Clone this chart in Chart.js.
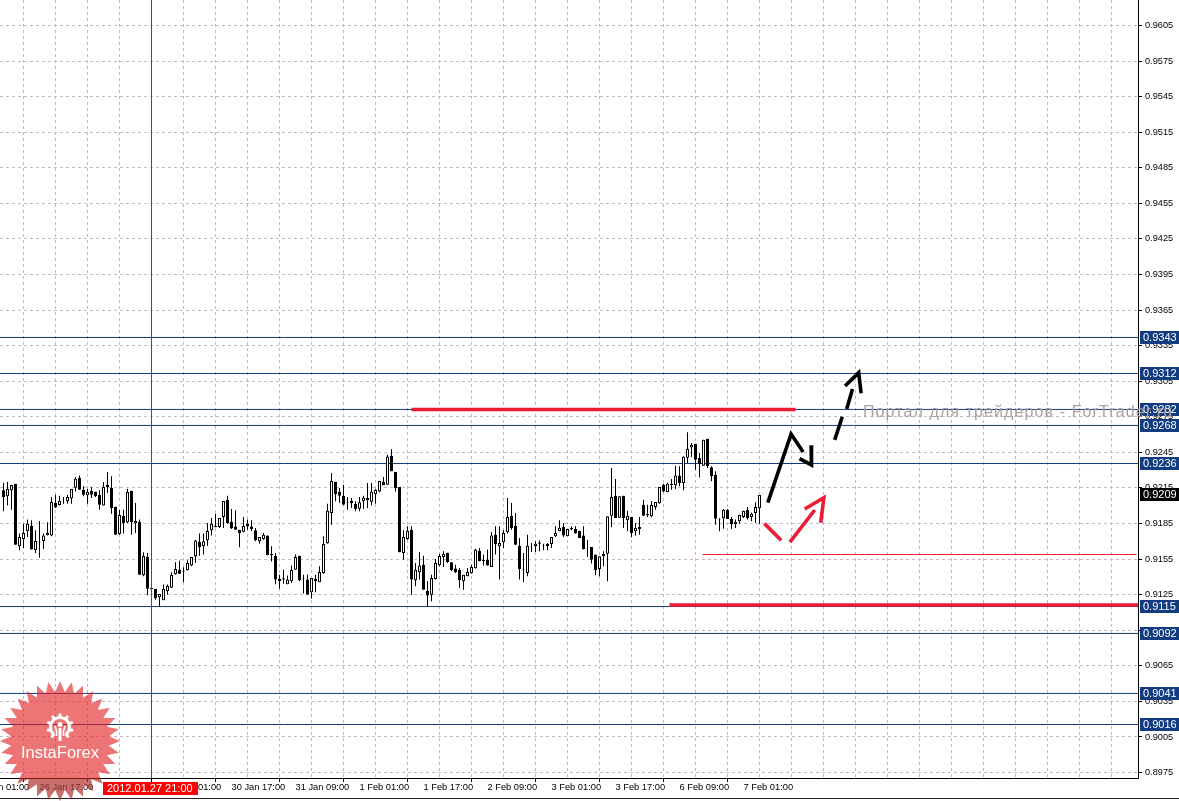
<!DOCTYPE html>
<html>
<head>
<meta charset="utf-8">
<title>USDCHF H1</title>
<script src="https://cdn.jsdelivr.net/npm/chart.js@4"></script>
<style>
html,body{margin:0;padding:0;background:#fff;overflow:hidden}
canvas{display:block}
</style>
</head>
<body>
<canvas id="chart" width="1179" height="801"></canvas>
<script>
const opens = [
0.92130,0.92079,0.92130,0.92186,0.91658,0.91720,0.91784,0.91832,0.91624,0.91697,
0.91703,0.91751,0.91748,0.92023,0.92006,0.92034,0.92037,0.92062,0.92152,0.92237,
0.92135,0.92088,0.92124,0.92119,0.92093,0.92003,0.92178,0.92152,0.91992,0.91762,
0.91916,0.91860,0.92127,0.91852,0.91866,0.91413,0.91568,0.91307,0.91301,0.91228,
0.91203,0.91278,0.91309,0.91422,0.91458,0.91446,0.91455,0.91495,0.91573,0.91694,
0.91658,0.91708,0.91793,0.91832,0.91821,0.91905,0.92051,0.91866,0.91824,0.91798,
0.91781,0.91849,0.91824,0.91793,0.91700,0.91720,0.91748,0.91593,0.91576,0.91385,
0.91388,0.91337,0.91363,0.91461,0.91579,0.91387,0.91377,0.91270,0.91385,0.91354,
0.91433,0.91683,0.91939,0.92203,0.92119,0.92085,0.92031,0.92043,0.92017,0.91975,
0.92037,0.92046,0.92034,0.92096,0.92121,0.92203,0.92178,0.92422,0.92284,0.92158,
0.91602,0.91720,0.91798,0.91371,0.91439,0.91503,0.91281,0.91250,0.91382,0.91498,
0.91568,0.91604,0.91523,0.91470,0.91461,0.91363,0.91405,0.91430,0.91472,0.91621,
0.91543,0.91543,0.91484,0.91756,0.91658,0.91692,0.91776,0.91916,0.91832,0.91663,
0.91463,0.91433,0.91654,0.91658,0.91689,0.91665,0.91677,0.91677,0.91742,0.91784,
0.91821,0.91742,0.91812,0.91804,0.91790,0.91748,0.91651,0.91652,0.91588,0.91467,
0.91573,0.91596,0.91916,0.92085,0.91899,0.92085,0.91877,0.91905,0.91784,0.91821,
0.92009,0.91930,0.91911,0.91989,0.92020,0.92178,0.92116,0.92186,0.92172,0.92256,
0.92192,0.92405,0.92492,0.92523,0.92402,0.92338,0.92565,0.92324,0.92262,0.91888,
0.91894,0.91967,0.91888,0.91843,0.91869,0.91905,0.91967,0.91905,0.91939,0.91978];
const highs = [
0.92192,0.92200,0.92175,0.92186,0.91765,0.91849,0.91883,0.91877,0.91793,0.91871,
0.91765,0.91860,0.92074,0.92093,0.92085,0.92074,0.92093,0.92141,0.92242,0.92254,
0.92164,0.92141,0.92158,0.92119,0.92130,0.92200,0.92284,0.92248,0.91992,0.91967,
0.91967,0.92144,0.92127,0.92023,0.91883,0.91607,0.91602,0.91307,0.91301,0.91256,
0.91335,0.91335,0.91439,0.91523,0.91537,0.91481,0.91540,0.91568,0.91714,0.91765,
0.91765,0.91854,0.91897,0.91933,0.91897,0.92040,0.92085,0.91973,0.91961,0.91798,
0.91905,0.91883,0.91877,0.91812,0.91736,0.91770,0.91748,0.91658,0.91602,0.91419,
0.91461,0.91411,0.91495,0.91588,0.91579,0.91419,0.91419,0.91391,0.91419,0.91489,
0.91742,0.92017,0.92276,0.92203,0.92150,0.92178,0.92071,0.92065,0.92037,0.92074,
0.92085,0.92192,0.92192,0.92141,0.92209,0.92242,0.92431,0.92478,0.92284,0.92158,
0.91793,0.91826,0.91826,0.91517,0.91610,0.91579,0.91363,0.91419,0.91551,0.91596,
0.91616,0.91604,0.91523,0.91503,0.91475,0.91419,0.91475,0.91503,0.91638,0.91644,
0.91588,0.91630,0.91776,0.91826,0.91826,0.91793,0.92065,0.92023,0.91939,0.91728,
0.91602,0.91756,0.91686,0.91700,0.91706,0.91680,0.91686,0.91736,0.91826,0.91877,
0.91854,0.91804,0.91826,0.91826,0.91790,0.91826,0.91714,0.91652,0.91588,0.91573,
0.91616,0.91911,0.92318,0.92225,0.92079,0.92085,0.91958,0.91905,0.91854,0.91905,
0.92051,0.92009,0.92037,0.92032,0.92158,0.92186,0.92197,0.92225,0.92338,0.92332,
0.92416,0.92619,0.92529,0.92523,0.92445,0.92557,0.92565,0.92332,0.92290,0.91897,
0.91973,0.91973,0.91905,0.91883,0.91925,0.91958,0.91989,0.91944,0.92029,0.92091];
const lows = [
0.91953,0.92001,0.91967,0.91672,0.91624,0.91644,0.91736,0.91630,0.91602,0.91562,
0.91635,0.91748,0.91742,0.91981,0.92001,0.92017,0.92017,0.92017,0.92121,0.92135,
0.92079,0.92017,0.92065,0.92074,0.91967,0.92003,0.92107,0.91933,0.91756,0.91756,
0.91765,0.91854,0.91756,0.91770,0.91419,0.91405,0.91245,0.91295,0.91208,0.91146,
0.91203,0.91250,0.91307,0.91419,0.91425,0.91354,0.91453,0.91489,0.91517,0.91579,
0.91588,0.91663,0.91748,0.91818,0.91812,0.91812,0.91849,0.91804,0.91798,0.91649,
0.91776,0.91798,0.91787,0.91700,0.91680,0.91714,0.91582,0.91529,0.91337,0.91301,
0.91343,0.91337,0.91349,0.91461,0.91363,0.91259,0.91250,0.91217,0.91270,0.91354,
0.91427,0.91680,0.91840,0.92037,0.92023,0.92009,0.91967,0.91981,0.91953,0.91953,
0.91973,0.91981,0.92001,0.92017,0.92113,0.92172,0.92178,0.92290,0.92121,0.91607,
0.91545,0.91714,0.91250,0.91321,0.91377,0.91292,0.91146,0.91194,0.91377,0.91489,
0.91484,0.91517,0.91447,0.91433,0.91307,0.91292,0.91405,0.91427,0.91470,0.91531,
0.91495,0.91495,0.91484,0.91588,0.91377,0.91644,0.91765,0.91798,0.91672,0.91377,
0.91354,0.91405,0.91610,0.91610,0.91616,0.91624,0.91624,0.91644,0.91736,0.91784,
0.91736,0.91742,0.91793,0.91765,0.91728,0.91630,0.91568,0.91512,0.91413,0.91405,
0.91489,0.91363,0.91818,0.91897,0.91899,0.91812,0.91784,0.91734,0.91748,0.91756,
0.91916,0.91905,0.91902,0.91967,0.92017,0.92113,0.92113,0.92135,0.92141,0.92164,
0.92130,0.92360,0.92411,0.92304,0.92239,0.92338,0.92318,0.92206,0.91840,0.91784,
0.91807,0.91888,0.91804,0.91812,0.91849,0.91897,0.91883,0.91869,0.91854,0.91849];
const closes = [
0.92071,0.92141,0.92175,0.91672,0.91736,0.91770,0.91849,0.91630,0.91703,0.91691,
0.91748,0.91770,0.92032,0.91987,0.92043,0.92030,0.92074,0.92141,0.92228,0.92135,
0.92093,0.92119,0.92093,0.92079,0.92009,0.92158,0.92155,0.91978,0.91756,0.91922,
0.91854,0.92116,0.91860,0.91871,0.91419,0.91576,0.91301,0.91295,0.91219,0.91256,
0.91301,0.91326,0.91419,0.91467,0.91427,0.91442,0.91517,0.91568,0.91706,0.91649,
0.91700,0.91787,0.91849,0.91818,0.91897,0.92040,0.91854,0.91810,0.91798,0.91767,
0.91829,0.91824,0.91804,0.91708,0.91736,0.91756,0.91582,0.91582,0.91377,0.91366,
0.91377,0.91377,0.91458,0.91568,0.91371,0.91383,0.91250,0.91391,0.91363,0.91441,
0.91677,0.91958,0.92209,0.92096,0.92085,0.92009,0.92027,0.92020,0.91973,0.92029,
0.92068,0.92065,0.92119,0.92133,0.92209,0.92172,0.92416,0.92290,0.92150,0.91607,
0.91736,0.91790,0.91377,0.91461,0.91495,0.91292,0.91242,0.91391,0.91517,0.91576,
0.91596,0.91523,0.91455,0.91439,0.91371,0.91419,0.91441,0.91484,0.91630,0.91531,
0.91534,0.91495,0.91748,0.91675,0.91686,0.91770,0.91905,0.91812,0.91672,0.91467,
0.91459,0.91663,0.91650,0.91680,0.91680,0.91661,0.91658,0.91736,0.91770,0.91815,
0.91748,0.91804,0.91801,0.91765,0.91728,0.91635,0.91647,0.91545,0.91455,0.91573,
0.91593,0.91911,0.92074,0.91897,0.92079,0.91897,0.91916,0.91770,0.91815,0.91804,
0.91916,0.91919,0.92006,0.92032,0.92158,0.92121,0.92186,0.92175,0.92256,0.92192,
0.92416,0.92478,0.92512,0.92388,0.92352,0.92557,0.92332,0.92248,0.91891,0.91883,
0.91967,0.91888,0.91843,0.91863,0.91922,0.91956,0.91897,0.91933,0.91989,0.92091];

const yTicks = [0.9605,0.9575,0.9545,0.9515,0.9485,0.9455,0.9425,0.9395,0.9365,0.9335,0.9305,0.9275,0.9245,0.9215,0.9185,0.9155,0.9125,0.9095,0.9065,0.9035,0.9005,0.8975];
const timeLabels = ['26 Jan 01:00','26 Jan 17:00','27 Jan 09:00','30 Jan 01:00','30 Jan 17:00','31 Jan 09:00','1 Feb 01:00','1 Feb 17:00','2 Feb 09:00','3 Feb 01:00','3 Feb 17:00','6 Feb 09:00','7 Feb 01:00'];
const timeLabelBars = [-7,9,25,41,57,73,89,105,121,137,153,169,185];
const gridBars = [1,9,17,25,33,41,49,57,65,73,81,89,97,105,113,121,129,137,145,153,161,169,177,185,193,201,209,217,225,233,241,249,257,265,273,281];

// horizontal levels and the price tags on the axis
const levelValues = [0.93419,0.93115,0.92812,0.92677,0.92356,0.91150,0.90923,0.90417,0.90155];
const levelLabels = ['0.9343','0.9312','0.9282','0.9268','0.9236','0.9115','0.9092','0.9041','0.9016'];
const lastPrice = 0.92091;
const lastLabel = '0.9209';
const cursorBar = 37;
const cursorLabel = '2012.01.27 21:00';

// hand drawn lines: bar position / price
const redTopX = [102,198],          redTopY = [0.92812,0.92812];
const redLowX = [166.5,283.625],    redLowY = [0.91163,0.91163];
const redThinX = [174.75,283.25],   redThinY = [0.91589,0.91589];
const blackUpX = [191.08,196.9,199.9],   blackUpY = [0.92026,0.92605,0.92453];
const blackHeadX = [201.9,202,199],      blackHeadY = [0.92510,0.92344,0.92397];
const dashAX = [207.8,209.7],            dashAY = [0.92555,0.92751];
const dashBX = [210.8,212.25],           dashBY = [0.92816,0.92985];
const dashHeadX = [210.4,213.8,214.4],   dashHeadY = [0.93010,0.93122,0.92948];
const redDownX = [190.25,194.4],         redDownY = [0.91849,0.91709];
const redUpX = [196.6,202.8],            redUpY = [0.91694,0.91964];
const redHeadX = [200.3,205.1,204.3],    redHeadY = [0.91973,0.92068,0.91857];

const X_MIN = -0.875, X_MAX = 283.625;
const FONT = '"Liberation Sans", Arial, sans-serif';
const NAVY = '#123c82', RED = '#ec1c34';
const BOLD = 3.6;

function pts(xs, ys){ return xs.map((x,i)=>({x:x, y:ys[i]})); }
function lineSet(xs, ys, color, width, order){
  return {type:'line', data:pts(xs,ys), borderColor:color, borderWidth:width, pointRadius:0, tension:0, fill:false, order:order, borderCapStyle:'butt', borderJoinStyle:'miter'};
}
// no room kept for labels that stick out past the plot
function noPad(s){ s.paddingLeft = s.paddingRight = s.paddingTop = s.paddingBottom = 0; }

const datasets = [];
levelValues.forEach(v=>datasets.push(lineSet([X_MIN,X_MAX],[v,v],NAVY,1,6)));
datasets.push({
  type:'bar', grouped:false, order:5, barThickness:1, borderWidth:0, inflateAmount:0,
  backgroundColor:'#000',
  data:highs.map((h,i)=>({x:i, y:[lows[i],h]}))
});
datasets.push({
  type:'bar', grouped:false, order:4, barThickness:3, borderWidth:1, borderSkipped:false, inflateAmount:0,
  borderColor:'#000',
  backgroundColor:opens.map((o,i)=>closes[i]>=o ? '#fff' : '#000'),
  data:opens.map((o,i)=>({x:i, y:[Math.min(o,closes[i]),Math.max(o,closes[i])]}))
});
datasets.push(lineSet([cursorBar,cursorBar],[0.89704,0.96265],'#d01424',1,3));
datasets.push(lineSet(redTopX,redTopY,RED,BOLD,2));
datasets.push(lineSet(redLowX,redLowY,RED,BOLD,2));
datasets.push(lineSet(redThinX,redThinY,RED,1,2));
datasets.push(lineSet(blackUpX,blackUpY,'#000',BOLD,1));
datasets.push(lineSet(blackHeadX,blackHeadY,'#000',BOLD,1));
datasets.push(lineSet(dashAX,dashAY,'#000',BOLD,1));
datasets.push(lineSet(dashBX,dashBY,'#000',BOLD,1));
datasets.push(lineSet(dashHeadX,dashHeadY,'#000',BOLD,1));
datasets.push(lineSet(redDownX,redDownY,RED,BOLD,1));
datasets.push(lineSet(redUpX,redUpY,RED,BOLD,1));
datasets.push(lineSet(redHeadX,redHeadY,RED,BOLD,1));

// tags on the axes, the forum watermark and the InstaForex stamp
const overlay = {
  id:'overlay',
  afterDraw(chart){
    const c = chart.ctx, ys = chart.scales.y, xs = chart.scales.x;
    const tag = (y,bg,txt)=>{
      const r = Math.round(y-0.5);
      c.fillStyle = bg; c.fillRect(1140,r-6,39,13);
      c.fillStyle = '#fff'; c.font = '11px '+FONT; c.textAlign='left'; c.textBaseline='middle';
      c.fillText(txt,1143,r+1);
    };
    c.save();
    // frame at the foot of the window
    c.fillStyle = '#222'; c.fillRect(0,798,1179,1);
    levelValues.forEach((v,i)=>tag(ys.getPixelForValue(v),'#123c82',levelLabels[i]));
    tag(ys.getPixelForValue(lastPrice),'#000',lastLabel);
    // cursor time
    const cx = xs.getPixelForValue(cursorBar);
    c.fillStyle = '#ff0000'; c.fillRect(cx-48.5,782,95,13);
    c.fillStyle = '#fff'; c.font = '11px '+FONT; c.textAlign='left'; c.textBaseline='middle';
    c.fillText(cursorLabel,107,789);
    // forum watermark runs over the axis
    c.fillStyle = '#ab9f9f'; c.font = '16px '+FONT; c.textBaseline='alphabetic';
    c.letterSpacing = '1.1px';
    c.fillText('Портал для трейдеров - ForTrader.ru',863,417);
    c.letterSpacing = '0px';
    // stamp
    const sx = 60, sy = 741, n = 32;
    const star = ()=>{
      c.beginPath();
      for(let i=0;i<n*2;i++){
        const r = i%2 ? 49 : 60, a = Math.PI*i/n - Math.PI/2;
        const px = sx+r*Math.cos(a), py = sy+r*Math.sin(a);
        i ? c.lineTo(px,py) : c.moveTo(px,py);
      }
      c.closePath();
    };
    star(); c.fillStyle = 'rgba(228,32,32,0.62)'; c.fill();
    c.save(); star(); c.clip();
    c.fillStyle = 'rgba(110,100,90,0.3)'; c.fillRect(0,779,130,22);
    c.restore();
    // gear
    const gx = 60, gy = 727;
    c.strokeStyle = '#fff'; c.fillStyle = '#fff'; c.lineWidth = 3;
    c.beginPath(); c.arc(gx,gy,9.5,Math.PI*0.72,Math.PI*0.28); c.stroke();
    c.lineWidth = 3;
    for(let k=0;k<9;k++){
      const a = Math.PI*0.72 + k*(Math.PI*1.56)/8;
      c.beginPath(); c.moveTo(gx+9*Math.cos(a),gy+9*Math.sin(a)); c.lineTo(gx+13.5*Math.cos(a),gy+13.5*Math.sin(a)); c.stroke();
    }
    c.beginPath(); c.arc(gx,gy-2.5,2.4,0,Math.PI*2); c.fill();
    c.fillRect(gx-1.5,gy+1,3,13);
    c.lineWidth = 1.6;
    c.beginPath(); c.moveTo(gx-5,gy-1); c.lineTo(gx-3.5,gy+4); c.lineTo(gx-3.5,gy+9); c.stroke();
    c.beginPath(); c.moveTo(gx+5,gy-1); c.lineTo(gx+3.5,gy+4); c.lineTo(gx+3.5,gy+9); c.stroke();
    c.fillStyle = '#fff'; c.font = '16.5px '+FONT; c.textAlign='center'; c.textBaseline='alphabetic';
    c.fillText('InstaForex',sx,758);
    c.restore();
  }
};

new Chart(document.getElementById('chart').getContext('2d'), {
  type:'bar',
  data:{datasets:datasets},
  plugins:[overlay],
  options:{
    responsive:false, animation:false, devicePixelRatio:1, events:[],
    layout:{padding:0},
    plugins:{legend:{display:false}, tooltip:{enabled:false}, title:{display:false}},
    scales:{
      x:{
        type:'linear', min:X_MIN, max:X_MAX, offset:false,
        afterFit(s){ s.height = 23; noPad(s); },
        afterBuildTicks(s){
          const all = gridBars.concat(timeLabelBars.filter(b=>!gridBars.includes(b))).sort((a,b)=>a-b);
          s.ticks = all.map(v=>({value:v}));
        },
        border:{display:true,color:'#000',width:1,dash:[3,3]},
        grid:{
          color:'#b8c0b8', lineWidth:1, tickLength:4, tickWidth:1,
          tickColor:ctx=>timeLabelBars.includes(ctx.tick && ctx.tick.value) ? '#000' : 'transparent'
        },
        ticks:{
          autoSkip:false, maxRotation:0, minRotation:0, align:'start', padding:0, color:'#000',
          font:{family:FONT,size:9.3},
          callback:v=>{ const i = timeLabelBars.indexOf(v); return i<0 ? '' : timeLabels[i]; }
        }
      },
      y:{
        type:'linear', position:'right', min:0.89704, max:0.96265,
        afterFit(s){ s.width = 41; noPad(s); },
        afterBuildTicks(s){ s.ticks = yTicks.map(v=>({value:v})); },
        border:{display:true,color:'#000',width:1,dash:[3,3]},
        grid:{color:'#c8b8c8', lineWidth:1, tickLength:4, tickWidth:1, tickColor:'#000'},
        ticks:{
          autoSkip:false, padding:3, color:'#000', crossAlign:'near',
          font:{family:FONT,size:9.2},
          callback:v=>v.toFixed(4)
        }
      }
    }
  }
});
</script>
</body>
</html>
